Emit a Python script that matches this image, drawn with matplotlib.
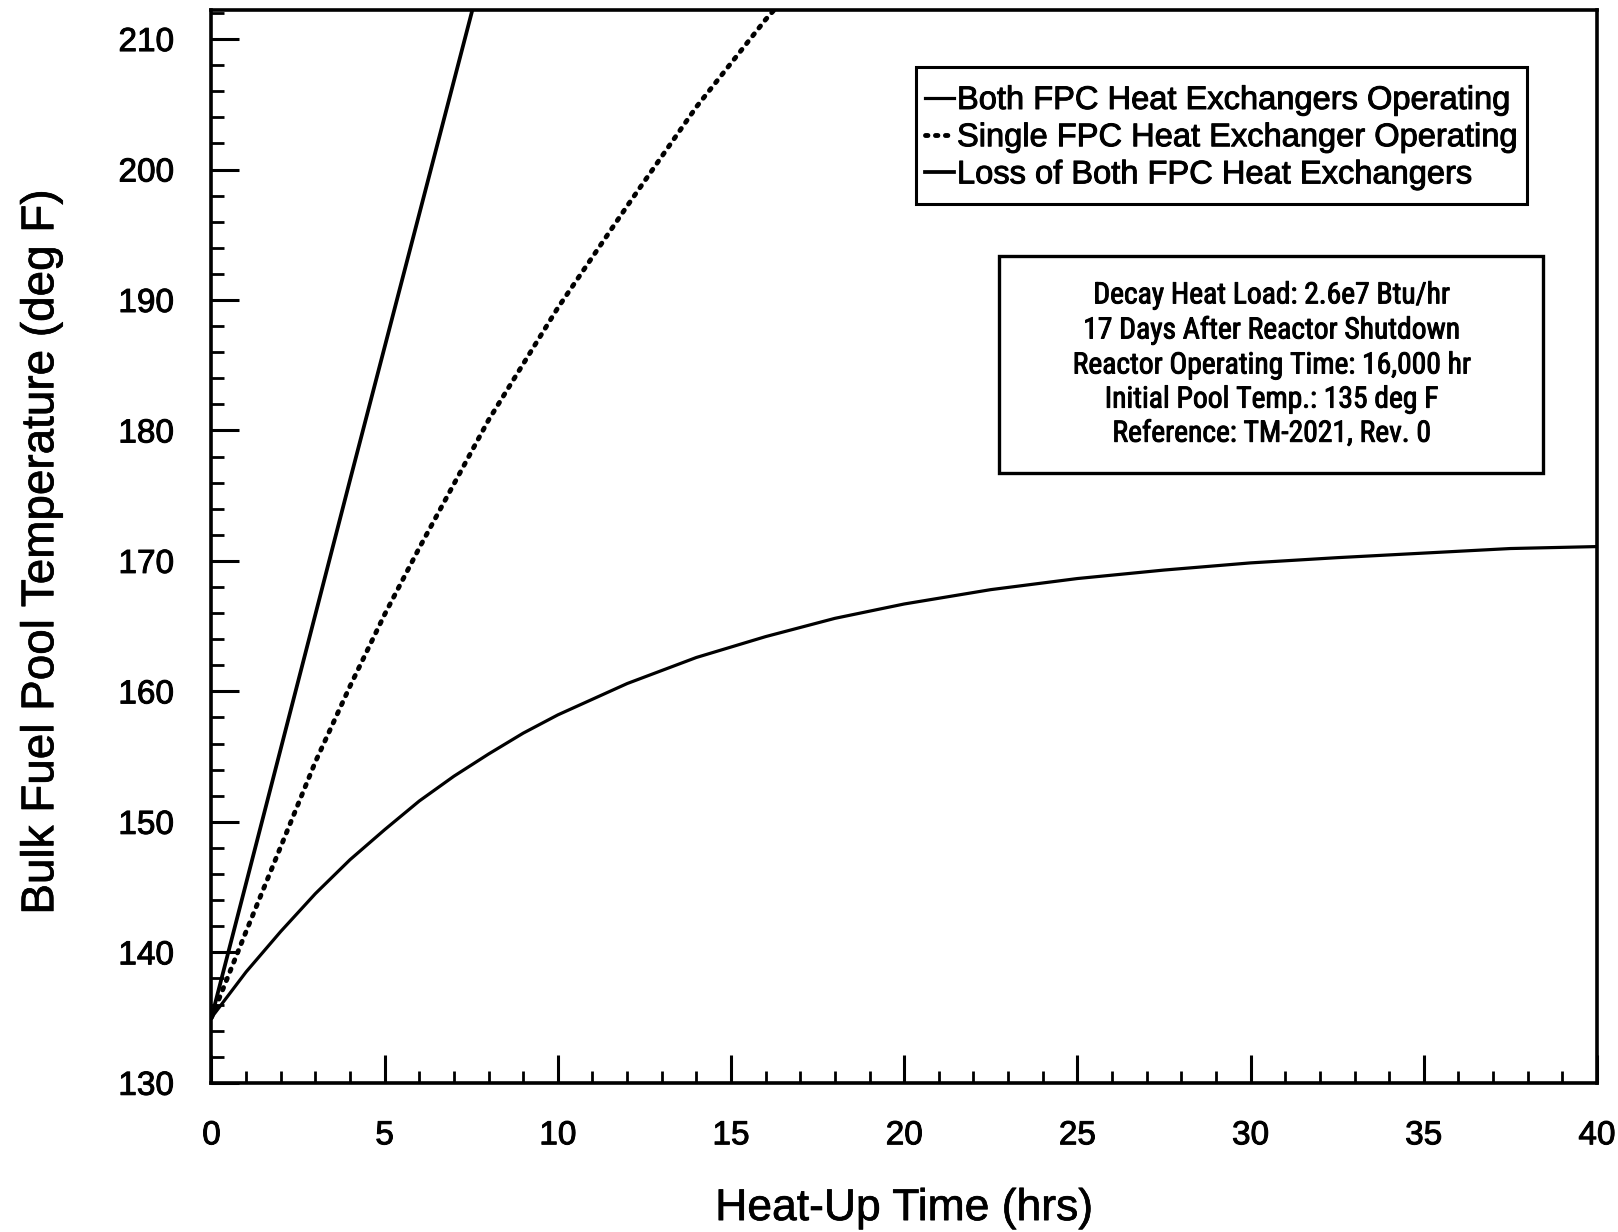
import os
import matplotlib
matplotlib.use("Agg")
import matplotlib.pyplot as plt
from matplotlib import font_manager
from matplotlib import patheffects as pe
from matplotlib.patches import Rectangle
from matplotlib.ticker import MultipleLocator

# ---- data ----
both_t = [0, 1, 2, 3, 4, 5, 6, 7, 8, 9, 10, 12, 14, 16, 18, 20, 22.5, 25, 27.5, 30, 32.5, 35, 37.5, 40]
both_T = [135, 138.5, 141.6, 144.5, 147.1, 149.4, 151.6, 153.5, 155.2, 156.8, 158.2, 160.6, 162.6,
          164.2, 165.6, 166.7, 167.8, 168.65, 169.3, 169.85, 170.25, 170.6, 170.95, 171.1]

single_t = [0, 1, 2, 3, 4, 5, 6, 7, 8, 10, 12, 14, 16, 17]
single_T = [135, 141.6, 148.1, 154.6, 160.4, 165.9, 171.0, 175.9, 180.8, 189.4, 197.2, 204.8, 211.5, 214.5]

loss_t = [0, 1, 2, 4, 6, 8]
loss_T = [135, 145.3, 155.6, 176.2, 196.6, 217.0]

labels = ["Both FPC Heat Exchangers Operating",
          "Single FPC Heat Exchanger Operating",
          "Loss of Both FPC Heat Exchangers"]

info_lines = ["Decay Heat Load: 2.6e7 Btu/hr",
              "17 Days After Reactor Shutdown",
              "Reactor Operating Time: 16,000 hr",
              "Initial Pool Temp.: 135 deg F",
              "Reference: TM-2021, Rev. 0"]

xlabel = "Heat-Up Time (hrs)"
ylabel = "Bulk Fuel Pool Temperature (deg F)"

# ---- fonts ----
names = {f.name for f in font_manager.fontManager.ttflist}
main_font = "Liberation Sans" if "Liberation Sans" in names else "DejaVu Sans"
plt.rcParams["font.family"] = [main_font, "DejaVu Sans"]

bad = ("bold", "italic", "oblique", "mono", "serif", "light", "thin", "medium",
       "black", "semi", "extra", "dejavu")
candidates = []
for f in font_manager.fontManager.ttflist:
    base = os.path.basename(f.fname).lower()
    if ("narrow" in base or "condensed" in base) and not any(b in base for b in bad):
        rank = 0 if ("liberation" in base or "roboto" in base) else 1
        candidates.append((rank, f.fname))
if candidates:
    candidates.sort()
    info_prop = font_manager.FontProperties(fname=candidates[0][1], size=22)
else:
    info_prop = font_manager.FontProperties(family=[main_font, "DejaVu Sans"], size=19)

heavy = [pe.withStroke(linewidth=0.7, foreground="black")]

W, H = 1618, 1232
fig = plt.figure(figsize=(W / 100, H / 100), dpi=100)
ax = fig.add_axes([0.1307, 0.1211, 0.9870 - 0.1307, 0.9916 - 0.1211])

l1, = ax.plot(both_t, both_T, color="black", lw=2.3, solid_joinstyle="round")
l2, = ax.plot(single_t, single_T, color="black", lw=3.5,
              linestyle=(0, (0.5, 1.55)), dash_capstyle="round")
l3, = ax.plot(loss_t, loss_T, color="black", lw=2.7)

ax.set_xlim(0, 40)
ax.set_ylim(130, 212.2)

ax.xaxis.set_major_locator(MultipleLocator(5))
ax.xaxis.set_minor_locator(MultipleLocator(1))
ax.yaxis.set_major_locator(MultipleLocator(10))
ax.yaxis.set_minor_locator(MultipleLocator(2))

ax.tick_params(which="both", direction="in", top=False, right=False, color="black")
ax.tick_params(which="major", length=20, width=2.2, labelsize=24, pad=27)
ax.tick_params(which="minor", length=9, width=2.0)

for s in ax.spines.values():
    s.set_linewidth(2.6)
    s.set_color("black")

ax.set_xlabel(xlabel, fontsize=32, va="baseline")
ax.xaxis.set_label_coords(0.5, -0.128)
ax.set_ylabel(ylabel, fontsize=33)
ax.yaxis.set_label_coords(-0.107, 0.495)

# legend (frame drawn separately so its box matches the reference)
leg = ax.legend([l1, l2, l3], labels, loc="upper left",
                bbox_to_anchor=(925 / W, 1 - 85 / H), bbox_transform=fig.transFigure,
                borderaxespad=0, fontsize=23.5, handlelength=0.9, handletextpad=0.08,
                labelspacing=0.19, borderpad=0.0, frameon=False)
for t in leg.get_texts():
    t.set_path_effects(heavy)
fig.patches.append(Rectangle((916 / W, 1 - 204 / H), 611 / W, 137 / H,
                             transform=fig.transFigure, fill=False,
                             edgecolor="black", linewidth=2.2))

# info box
fig.patches.append(Rectangle((999 / W, 1 - 473 / H), 544 / W, 217 / H,
                             transform=fig.transFigure, fill=False,
                             edgecolor="black", linewidth=2.4))
baselines = [303.4, 338.5, 373.5, 407.6, 441.7]
info_texts = [fig.text(1271 / W, 1 - yb / H, s, ha="center", va="baseline",
                       fontproperties=info_prop, path_effects=heavy)
              for s, yb in zip(info_lines, baselines)]

for t in ax.get_xticklabels() + ax.get_yticklabels():
    t.set_path_effects(heavy)
ax.xaxis.label.set_path_effects([pe.withStroke(linewidth=0.5, foreground="black")])
ax.yaxis.label.set_path_effects([pe.withStroke(linewidth=0.5, foreground="black")])

# fit the widest info line to the reference width (about 398 px)
fig.canvas.draw()
r = fig.canvas.get_renderer()
widest = max(t.get_window_extent(r).width for t in info_texts)
scale = 398.0 / widest
for t in info_texts:
    t.set_fontsize(info_prop.get_size() * scale)

fig.savefig("out.png", dpi=100)
